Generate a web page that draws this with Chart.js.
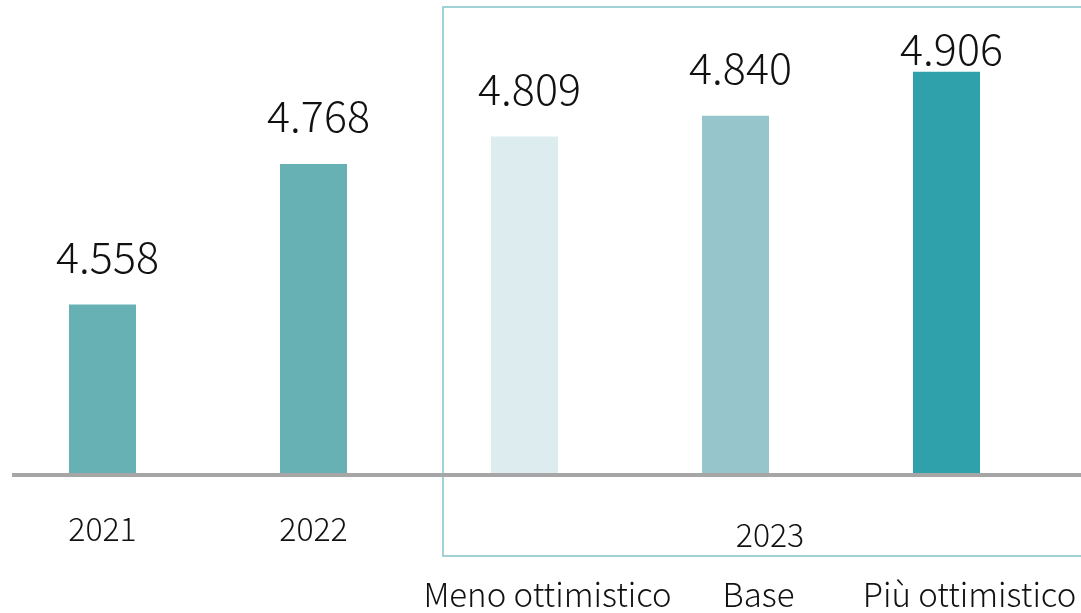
<!DOCTYPE html>
<html>
<head>
<meta charset="utf-8">
<script src="https://cdn.jsdelivr.net/npm/chart.js@4"></script>
<style>
  html, body { margin: 0; padding: 0; background: #fff; overflow: hidden; }
  #wrap { position: absolute; left: -3px; top: 0; width: 1084px; height: 613px; }
</style>
</head>
<body>
<div id="wrap"><canvas id="myChart"></canvas></div>
<script>
const categories = ["2021", "2022", "Meno ottimistico", "Base", "Più ottimistico"];
const values = [4.558, 4.768, 4.809, 4.840, 4.906];
const valueLabels = ["4.558", "4.768", "4.809", "4.840", "4.906"];
const yearLabels = ["2021", "2022", "", "", ""];
const groupLabel = "2023";
const scenarioLabels = ["", "", "Meno ottimistico", "Base", "Più ottimistico"];
const barColors = ["#67b1b4", "#67b1b4", "#ddecef", "#96c5cb", "#2fa1aa"];

const FONT = '"Noto Sans CJK JP", "Noto Sans", sans-serif';

// disegna linea di base, riquadro 2023 ed etichette
const decorPlugin = {
  id: "decor",
  afterDatasetsDraw(chart) {
    const ctx = chart.ctx;
    const y = chart.scales.y;
    const bars = chart.getDatasetMeta(0).data;
    const base = y.getPixelForValue(y.min);
    const W = chart.width;

    ctx.save();

    // riquadro scenari 2023
    const b3 = bars[2];
    const boxLeft = b3.x - b3.width / 2 - 48;
    const boxRight = W + 16;
    ctx.strokeStyle = "#a2d2d6";
    ctx.lineWidth = 2;
    ctx.strokeRect(boxLeft, 7, boxRight - boxLeft, base + 82 - 7);

    // linea di base
    ctx.strokeStyle = "#a6a6a6";
    ctx.lineWidth = 4;
    ctx.beginPath();
    ctx.moveTo(chart.chartArea.left + 15, base + 1);
    ctx.lineTo(W, base + 1);
    ctx.stroke();

    ctx.fillStyle = "#111";
    ctx.textAlign = "center";
    ctx.textBaseline = "alphabetic";

    // valori sopra le barre
    ctx.font = "300 43px " + FONT;
    bars.forEach((bar, i) => {
      const ty = Math.max(bar.y - 32, 65);
      ctx.fillText(valueLabels[i], bar.x + 5, ty);
    });

    // anni
    ctx.font = "300 32px " + FONT;
    bars.forEach((bar, i) => {
      if (yearLabels[i]) ctx.fillText(yearLabels[i], bar.x, base + 67);
    });
    ctx.fillText(groupLabel, (boxLeft + boxRight) / 2, base + 73);

    // scenari
    ctx.font = "300 33px " + FONT;
    bars.forEach((bar, i) => {
      if (scenarioLabels[i]) ctx.fillText(scenarioLabels[i], bar.x + 23, base + 133);
    });

    ctx.restore();
  },
};

const ctx = document.getElementById("myChart").getContext("2d");
const myChart = new Chart(ctx, {
  type: "bar",
  data: {
    labels: categories,
    datasets: [
      {
        data: values,
        backgroundColor: barColors,
        borderWidth: 0,
        barPercentage: 0.3175,
        categoryPercentage: 1,
      },
    ],
  },
  options: {
    responsive: true,
    maintainAspectRatio: false,
    animation: false,
    layout: {
      padding: { left: 0, right: 29, top: 0, bottom: 139 },
    },
    scales: {
      x: { display: false },
      y: { display: false, min: 4.305, max: 5.013 },
    },
    plugins: {
      legend: { display: false },
      tooltip: { enabled: false },
    },
  },
  plugins: [decorPlugin],
});
</script>
</body>
</html>
